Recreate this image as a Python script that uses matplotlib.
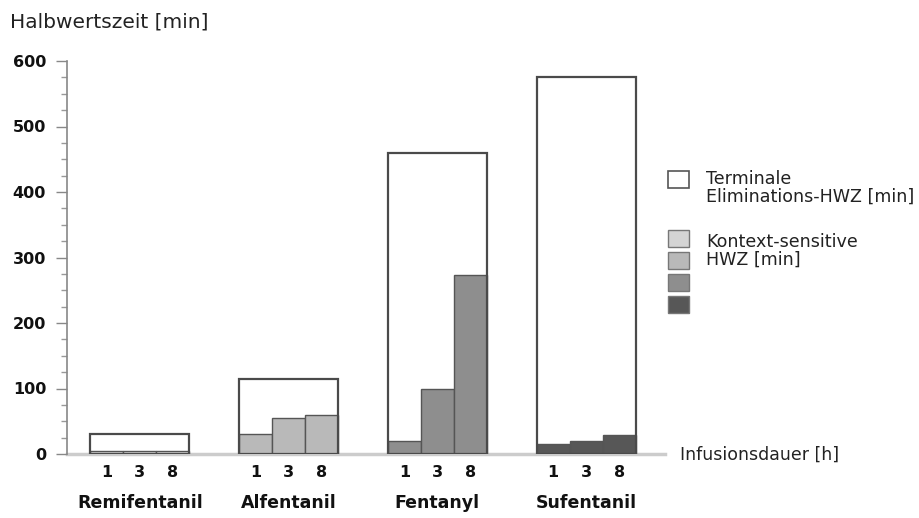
import matplotlib
matplotlib.use("Agg")
import matplotlib.pyplot as plt
from matplotlib.patches import Rectangle
from matplotlib.ticker import MultipleLocator
import numpy as np

plt.rcParams['font.family'] = ['DejaVu Sans']

drugs = ['Remifentanil', 'Alfentanil', 'Fentanyl', 'Sufentanil']
hours = ['1', '3', '8']
terminal_hwz = [30, 115, 460, 575]
context_hwz = [
    [5, 5, 5],       # Remifentanil
    [30, 55, 59],    # Alfentanil
    [20, 100, 273],  # Fentanyl
    [15, 20, 29],    # Sufentanil
]
colors = ['#d4d4d4', '#b9b9b9', '#8e8e8e', '#575757']
edge = '#555555'

fig = plt.figure(figsize=(9.2, 5.18), dpi=100)
ax = fig.add_axes([67/920, 1 - 454/518, (665 - 67)/920, (454 - 61)/518])

w = 0.222
centers = np.arange(len(drugs))
tick_pos = []
tick_lab = []
for i, d in enumerate(drugs):
    xs = centers[i] + (np.arange(3) - 1) * w
    ax.bar(xs, context_hwz[i], width=w, color=colors[i], edgecolor=edge, linewidth=1, zorder=2)
    ax.bar(centers[i], terminal_hwz[i], width=3 * w, fill=False, edgecolor='#4a4a4a', linewidth=1.6, zorder=3)
    tick_pos += list(xs)
    tick_lab += hours
    ax.text(centers[i], -0.125, d, transform=ax.get_xaxis_transform(), ha='center', va='center',
            fontsize=12.5, fontweight='bold', color='#111111')

ax.set_xlim(-0.49, 3.53)
ax.set_ylim(0, 600)
ax.set_xticks(tick_pos)
ax.set_xticklabels(tick_lab, fontsize=11.5, fontweight='bold', color='#111111')
ax.tick_params(axis='x', length=0, pad=8)
ax.yaxis.set_major_locator(MultipleLocator(100))
ax.yaxis.set_minor_locator(MultipleLocator(25))
ax.tick_params(axis='y', which='major', length=8, width=1, color='#888888', labelsize=11.5, pad=7)
ax.tick_params(axis='y', which='minor', length=4, width=1, color='#999999')
for lab in ax.get_yticklabels():
    lab.set_fontweight('bold')
    lab.set_color('#111111')

for s in ['top', 'right']:
    ax.spines[s].set_visible(False)
ax.spines['left'].set_color('#888888')
ax.spines['left'].set_linewidth(1.2)
ax.spines['bottom'].set_color('#cccccc')
ax.spines['bottom'].set_linewidth(2.5)
ax.spines['bottom'].set_zorder(1)

fig.text(10/920, 1 - 22/518, 'Halbwertszeit [min]', ha='left', va='center', fontsize=14.5, color='#222222')
fig.text(680/920, 1 - 455/518, 'Infusionsdauer [h]', ha='left', va='center', fontsize=12.5, color='#222222')

# legend
sq_w, sq_h = 21/920, 17/518
fig.patches.append(Rectangle((668/920, 1 - 188/518), sq_w, sq_h, transform=fig.transFigure,
                             facecolor='white', edgecolor=edge, linewidth=1.2))
for k, c in enumerate(colors):
    y = 247 + k * 22
    fig.patches.append(Rectangle((668/920, 1 - y/518), sq_w, sq_h, transform=fig.transFigure,
                                 facecolor=c, edgecolor='#777777', linewidth=1))
fig.text(706/920, 1 - 188/518, 'Terminale\nEliminations-HWZ [min]', ha='left', va='center',
         fontsize=12.6, color='#222222', linespacing=0.95)
fig.text(706/920, 1 - 251/518, 'Kontext-sensitive\nHWZ [min]', ha='left', va='center',
         fontsize=12.6, color='#222222', linespacing=0.95)

fig.savefig('out.png', dpi=100)
